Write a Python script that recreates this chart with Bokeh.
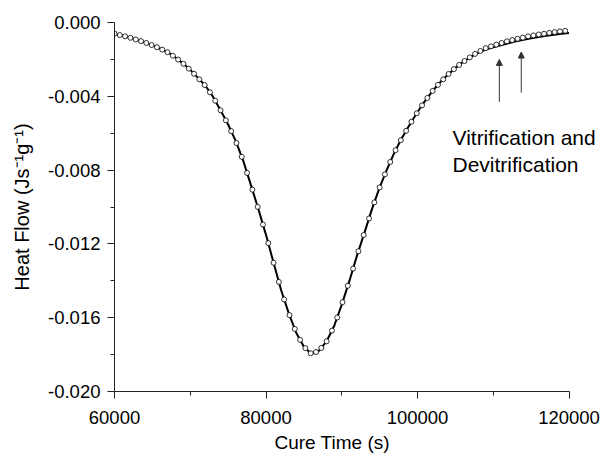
from bokeh.plotting import figure
from bokeh.models import FixedTicker, Range1d, Arrow, NormalHead, Label, Title
from bokeh.embed import file_html
from bokeh.resources import INLINE

# ---- data ----
# model curve (solid line), every 1000 s from 60000 to 120000
line_time = [60000 + 1000 * k for k in range(61)]
line_flow = [
    -0.00060, -0.00071, -0.00082, -0.00094, -0.00108, -0.00124, -0.00141, -0.00161,
    -0.00188, -0.00220, -0.00257, -0.00299, -0.00343, -0.00402, -0.00476, -0.00553,
    -0.00642, -0.00750, -0.00880, -0.01012, -0.01151, -0.01302, -0.01451, -0.01575,
    -0.01683, -0.01757, -0.01797, -0.01779, -0.01728, -0.01645, -0.01529, -0.01402,
    -0.01265, -0.01139, -0.01010, -0.00894, -0.00793, -0.00700, -0.00622, -0.00551,
    -0.00485, -0.00425, -0.00371, -0.00324, -0.00283, -0.00246, -0.00214, -0.00188,
    -0.00165, -0.00147, -0.00134, -0.00123, -0.00112, -0.00102, -0.00093, -0.00085,
    -0.00078, -0.00072, -0.00066, -0.00061, -0.00057,
]

# measured data (open circles), every 700 s
data_time = [60000 + 700 * i for i in range(86)]
data_flow = [
    -0.00060, -0.00068, -0.00075, -0.00083, -0.00092, -0.00101, -0.00111, -0.00122,
    -0.00134, -0.00147, -0.00161, -0.00180, -0.00201, -0.00224, -0.00250, -0.00278,
    -0.00308, -0.00339, -0.00378, -0.00424, -0.00476, -0.00530, -0.00589, -0.00653,
    -0.00728, -0.00815, -0.00906, -0.00999, -0.01095, -0.01196, -0.01302, -0.01406,
    -0.01501, -0.01586, -0.01661, -0.01720, -0.01765, -0.01793, -0.01786, -0.01764,
    -0.01728, -0.01670, -0.01599, -0.01516, -0.01427, -0.01334, -0.01240, -0.01152,
    -0.01062, -0.00975, -0.00894, -0.00823, -0.00756, -0.00692, -0.00638, -0.00587,
    -0.00538, -0.00492, -0.00449, -0.00409, -0.00371, -0.00338, -0.00308, -0.00279,
    -0.00253, -0.00230, -0.00209, -0.00189, -0.00170, -0.00154, -0.00139, -0.00129,
    -0.00120, -0.00111, -0.00102, -0.00095, -0.00088, -0.00082, -0.00075, -0.00070,
    -0.00065, -0.00061, -0.00056, -0.00052, -0.00048, -0.00045,
]

x_ticks = [60000, 80000, 100000, 120000]
x_tick_labels = ["60000", "80000", "100000", "120000"]
x_minor = [70000, 90000, 110000]
y_ticks = [0.0, -0.004, -0.008, -0.012, -0.016, -0.020]
y_tick_labels = ["0.000", "-0.004", "-0.008", "-0.012", "-0.016", "-0.020"]
y_minor = [-0.002, -0.006, -0.010, -0.014, -0.018]

FONT = "Liberation Sans"

# the frame runs to the right edge so the annotation text is not clipped;
# the x axis itself is bounded to 60000..120000
p = figure(width=605, height=456, output_backend="svg", toolbar_location=None,
           x_range=Range1d(60000, 124818), y_range=Range1d(-0.020, 0.000),
           min_border_left=114, min_border_right=0, min_border_top=22, min_border_bottom=64)
p.outline_line_color = None
p.xgrid.visible = False
p.ygrid.visible = False
p.background_fill_color = "white"
p.border_fill_color = "white"

p.line(line_time, line_flow, line_color="black", line_width=2)
p.scatter(data_time, data_flow, marker="circle", size=5, fill_color="white",
          line_color="black", line_width=0.8)

p.xaxis.bounds = (60000, 120000)
p.xaxis.ticker = FixedTicker(ticks=x_ticks, minor_ticks=x_minor)
p.yaxis.ticker = FixedTicker(ticks=y_ticks, minor_ticks=y_minor)
p.xaxis.major_label_overrides = {t: s for t, s in zip(x_ticks, x_tick_labels)}
p.yaxis.major_label_overrides = {t: s for t, s in zip(y_ticks, y_tick_labels)}

p.yaxis.axis_label = "Heat Flow (Js\u207b\u00b9g\u207b\u00b9)"

for ax in (p.xaxis[0], p.yaxis[0]):
    ax.axis_line_color = "#222222"
    ax.major_tick_line_color = "#222222"
    ax.minor_tick_line_color = "#222222"
    ax.major_tick_out = 7
    ax.major_tick_in = 0
    ax.minor_tick_out = 4
    ax.minor_tick_in = 0
    ax.major_label_text_font = FONT
    ax.major_label_text_font_size = "18.5px"
    ax.major_label_text_color = "black"
    ax.axis_label_text_font = FONT
    ax.axis_label_text_font_size = "20px"
    ax.axis_label_text_font_style = "normal"
    ax.axis_label_text_color = "black"

p.yaxis.major_label_standoff = 7
p.yaxis.axis_label_standoff = 12
p.xaxis.major_label_standoff = 12

p.add_layout(Title(text="Cure Time (s)", align="left", offset=160, standoff=7,
                   vertical_align="bottom",
                   text_font=FONT, text_font_size="19px", text_font_style="normal",
                   text_color="black"), "below")

# arrows and annotation
for xa, y0, y1 in [(110800, -0.0043, -0.0020), (113700, -0.0038, -0.0016)]:
    p.add_layout(Arrow(end=NormalHead(size=6, fill_color="#333333", line_color="#333333"),
                       x_start=xa, y_start=y0, x_end=xa, y_end=y1,
                       line_color="#333333", line_width=1))

for txt, yy in [("Vitrification and", -0.00622), ("Devitrification", -0.00768)]:
    p.add_layout(Label(x=104620, y=yy, text=txt, text_font=FONT, text_font_size="21px",
                       text_color="black", text_baseline="alphabetic", text_align="left"))

open("out.html", "w").write(file_html(p, INLINE))
